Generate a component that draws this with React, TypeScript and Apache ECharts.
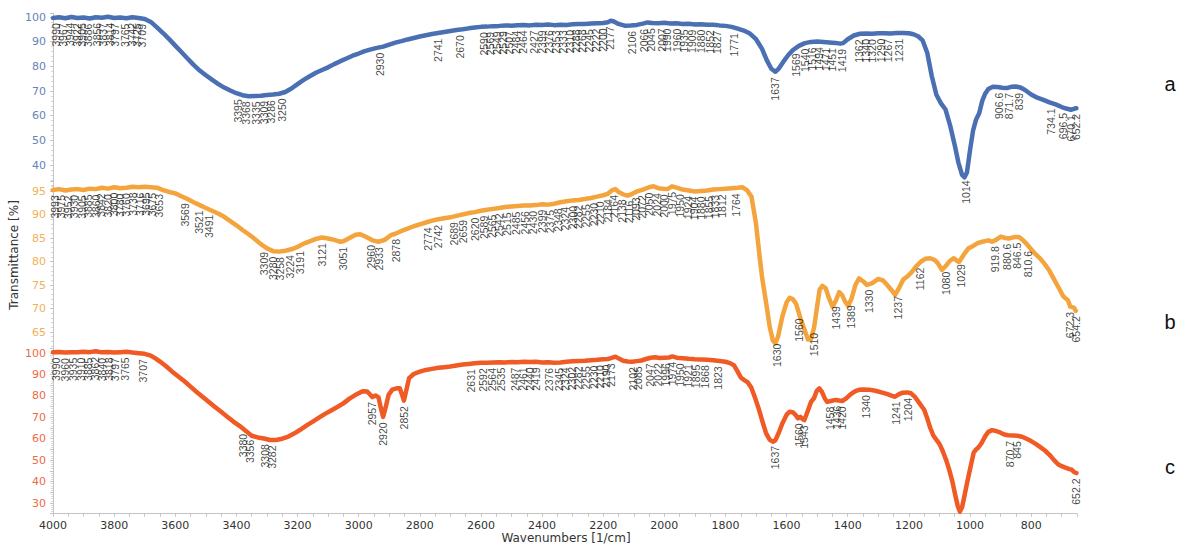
import React, { useEffect, useRef } from "react";
import * as echarts from "echarts";

// ---- data (wavenumber [1/cm], transmittance [%]) ----
const blueSpectrum: number[][] = [
  [4000, 99.6], [3980, 99.9], [3960, 99.5], [3940, 100], [3920, 99.6], [3900, 99.8], [3880, 99.4], [3860, 99.9],
  [3840, 99.7], [3820, 100.1], [3800, 99.6], [3780, 99.8], [3760, 99.5], [3740, 99.9], [3720, 99.6], [3700, 99.2],
  [3680, 98], [3660, 95.8], [3640, 93.5], [3620, 91], [3600, 88.4], [3580, 85.8], [3560, 83.2], [3540, 80.6],
  [3520, 78.3], [3500, 76.4], [3480, 74.6], [3460, 72.9], [3440, 71.4], [3420, 70.2], [3400, 69.1], [3380, 68.3],
  [3360, 67.9], [3340, 68], [3320, 68.1], [3300, 68.4], [3280, 68.6], [3260, 68.9], [3240, 69.6], [3220, 71],
  [3200, 72.8], [3180, 74.5], [3160, 76], [3140, 77.4], [3120, 78.5], [3100, 79.6], [3080, 80.9], [3060, 82.1],
  [3040, 83.2], [3020, 84.3], [3000, 85.2], [2980, 86.2], [2960, 86.9], [2940, 87.5], [2920, 88], [2900, 88.8],
  [2880, 89.6], [2860, 90.2], [2840, 90.9], [2820, 91.5], [2800, 92.1], [2780, 92.6], [2760, 93.1], [2740, 93.5],
  [2720, 93.9], [2700, 94.3], [2680, 94.7], [2660, 95], [2640, 95.4], [2620, 95.7], [2600, 96], [2580, 96.1],
  [2560, 96.3], [2540, 96.4], [2520, 96.6], [2500, 96.5], [2480, 96.7], [2460, 96.8], [2440, 96.6], [2420, 96.9],
  [2400, 96.8], [2380, 97], [2360, 96.7], [2340, 96.9], [2320, 96.8], [2300, 97.1], [2280, 97.2], [2260, 97.2],
  [2240, 97.4], [2220, 97.5], [2200, 97.6], [2185, 97.9], [2175, 98.5], [2165, 98.2], [2150, 97.2], [2130, 96.5],
  [2110, 96.6], [2090, 96.8], [2070, 97.3], [2055, 97.8], [2040, 97.6], [2020, 97.5], [2000, 97.7], [1980, 97.4],
  [1960, 97.5], [1940, 97.2], [1920, 97.3], [1900, 97], [1880, 97.1], [1860, 96.9], [1840, 96.9], [1820, 96.6],
  [1800, 96.4], [1780, 96], [1760, 95.3], [1740, 94.5], [1720, 93.3], [1700, 91], [1680, 87], [1665, 82.5],
  [1650, 79], [1637, 77.8], [1625, 79.2], [1610, 82], [1595, 84.5], [1580, 86.5], [1560, 88.3], [1540, 89.4],
  [1520, 89.9], [1500, 90.1], [1480, 89.9], [1460, 89.7], [1440, 89.5], [1425, 89.2], [1415, 89.4], [1400, 91],
  [1380, 92.5], [1360, 93.2], [1340, 93.3], [1320, 93.2], [1300, 93.4], [1280, 93.4], [1260, 93.3], [1240, 93.5],
  [1220, 93.5], [1200, 93.4], [1185, 93], [1170, 92.2], [1155, 90.5], [1140, 85.5], [1125, 76], [1110, 68.5],
  [1095, 65], [1080, 62.5], [1065, 56], [1050, 48], [1038, 41], [1026, 36], [1018, 35], [1010, 37], [1000, 46],
  [990, 54], [980, 58.5], [970, 61], [960, 66], [950, 69], [940, 70.8], [925, 71.7], [910, 71.6], [895, 71.3],
  [880, 71.2], [865, 71.7], [850, 71.8], [835, 71.4], [820, 70.4], [800, 68.6], [780, 67.3], [760, 66.4],
  [740, 65.4], [720, 64.6], [700, 63.5], [685, 62.9], [670, 62.4], [660, 62.8], [652, 63],
];

const orangeSpectrum: number[][] = [
  [4000, 95.2], [3980, 95.4], [3960, 95.1], [3940, 95.3], [3920, 95.4], [3900, 95.2], [3880, 95.5], [3860, 95.4],
  [3840, 95.7], [3820, 95.5], [3800, 95.8], [3780, 95.6], [3760, 95.7], [3740, 95.9], [3720, 95.8], [3700, 95.9],
  [3680, 95.8], [3660, 95.7], [3640, 95.2], [3620, 94.8], [3600, 94.5], [3580, 93.9], [3560, 93.3], [3540, 92.6],
  [3520, 92], [3500, 91.4], [3480, 90.8], [3460, 90.2], [3440, 89.5], [3420, 88.6], [3400, 87.7], [3380, 86.7],
  [3360, 85.8], [3340, 84.8], [3320, 83.7], [3300, 82.8], [3280, 82.2], [3260, 82.1], [3240, 82.3], [3220, 82.6],
  [3200, 83.1], [3180, 83.8], [3160, 84.3], [3140, 84.8], [3120, 85.1], [3100, 84.9], [3080, 84.6], [3060, 84.2],
  [3050, 84.3], [3030, 85], [3010, 85.7], [2995, 85.8], [2975, 85.2], [2955, 84.5], [2935, 84.2], [2915, 84.6],
  [2895, 85.6], [2880, 85.9], [2860, 86.5], [2840, 87], [2820, 87.5], [2800, 87.9], [2780, 88.3], [2760, 88.7],
  [2740, 89], [2720, 89.2], [2700, 89.4], [2680, 89.7], [2660, 90], [2640, 90.3], [2620, 90.5], [2600, 90.8],
  [2580, 91], [2560, 91.2], [2540, 91.4], [2520, 91.6], [2500, 91.7], [2480, 91.8], [2460, 91.9], [2440, 91.9],
  [2420, 92], [2400, 92.2], [2380, 92.1], [2360, 92.3], [2340, 92.6], [2320, 92.8], [2300, 93], [2280, 93.1],
  [2260, 93.3], [2240, 93.5], [2220, 93.8], [2200, 94.1], [2185, 94.4], [2170, 95.2], [2160, 95.4], [2150, 94.8],
  [2135, 94.3], [2120, 94], [2105, 94.4], [2090, 94.9], [2070, 95.3], [2050, 95.8], [2035, 96], [2020, 95.6],
  [2005, 95.5], [1990, 95.4], [1975, 96], [1960, 95.7], [1940, 95.3], [1920, 95.1], [1900, 94.9], [1880, 95],
  [1860, 95.1], [1840, 95.3], [1820, 95.4], [1800, 95.5], [1780, 95.6], [1760, 95.7], [1745, 95.8], [1730, 95.2],
  [1715, 93.8], [1700, 88], [1690, 82], [1680, 76.5], [1667, 71.2], [1655, 66], [1645, 63.2], [1637, 62.6],
  [1628, 64], [1614, 68.3], [1600, 71.3], [1590, 72.3], [1580, 72], [1569, 71], [1555, 68], [1540, 65.2],
  [1530, 63.4], [1520, 63.5], [1510, 66], [1500, 70.5], [1492, 74], [1483, 74.8], [1472, 74.3], [1462, 72.3],
  [1450, 70.4], [1440, 71.5], [1428, 73.5], [1418, 72.8], [1408, 71.4], [1399, 70.6], [1388, 72], [1375, 75],
  [1363, 76.4], [1350, 75.8], [1337, 75], [1320, 75.4], [1300, 76.3], [1285, 76], [1271, 75], [1258, 74],
  [1245, 72.9], [1232, 74.4], [1218, 76.2], [1205, 76.8], [1190, 77.8], [1177, 78.9], [1160, 80], [1145, 80.6],
  [1130, 80.7], [1115, 80.3], [1105, 79.6], [1092, 78.2], [1080, 79], [1065, 80.2], [1053, 80.7], [1042, 80.1],
  [1036, 79.9], [1020, 81.5], [1005, 82.8], [993, 83.2], [975, 83.9], [960, 84.2], [940, 84.5], [928, 84.2],
  [915, 84.6], [899, 85.3], [885, 85], [873, 84.9], [855, 85.2], [840, 85.2], [828, 84.6], [817, 83.9],
  [800, 82.6], [785, 81.5], [770, 80.6], [755, 79.4], [742, 78.2], [725, 76.2], [709, 74.3], [695, 72.6],
  [688, 72.2], [680, 71.8], [672, 70.4], [660, 70.2], [654, 69.5],
];

const redSpectrum: number[][] = [
  [4000, 100.3], [3980, 100.5], [3960, 100.2], [3940, 100.4], [3920, 100.3], [3900, 100.6], [3880, 100.4],
  [3860, 100.8], [3840, 100.3], [3820, 100.5], [3800, 100.2], [3780, 100.4], [3760, 100.6], [3740, 100.2],
  [3720, 99.9], [3700, 99.6], [3680, 98.8], [3665, 97.5], [3650, 96], [3630, 93.8], [3610, 91.3], [3590, 89],
  [3570, 86.8], [3550, 84.3], [3530, 81.8], [3510, 79.5], [3490, 77.1], [3470, 74.8], [3450, 72.6], [3430, 70.3],
  [3410, 68], [3390, 66], [3370, 63.7], [3350, 61.4], [3330, 60.6], [3310, 60.1], [3290, 59.4], [3270, 59.4],
  [3250, 60], [3230, 61], [3210, 62.5], [3190, 64.3], [3170, 66.2], [3150, 68], [3130, 69.8], [3110, 71.6],
  [3090, 73.2], [3070, 74.8], [3050, 76.5], [3030, 78.7], [3010, 80.5], [2995, 81.6], [2985, 82.2], [2972, 82],
  [2962, 80.5], [2955, 79.4], [2945, 80.2], [2935, 79.3], [2927, 74], [2920, 70.2], [2912, 74.5], [2902, 80.5],
  [2890, 82.9], [2876, 83.5], [2866, 83.6], [2858, 80.5], [2852, 77.8], [2845, 82], [2835, 88.3], [2820, 90.2],
  [2800, 91.3], [2780, 92.1], [2760, 92.6], [2740, 93.1], [2720, 93.4], [2700, 93.7], [2680, 94.2], [2660, 94.6],
  [2640, 94.9], [2620, 95.2], [2600, 95.4], [2580, 95.5], [2560, 95.6], [2540, 95.7], [2520, 95.6], [2500, 95.8],
  [2480, 95.7], [2460, 95.9], [2440, 95.8], [2420, 95.9], [2400, 95.6], [2380, 95.7], [2360, 95.5], [2340, 95.6],
  [2320, 95.9], [2300, 96.1], [2280, 96.3], [2260, 96.4], [2240, 96.6], [2220, 96.8], [2200, 97.1], [2185, 97.2],
  [2175, 97.6], [2160, 98.3], [2150, 97.5], [2135, 96.4], [2120, 96], [2105, 95.9], [2090, 96.2], [2075, 96.5],
  [2060, 97.2], [2045, 97.8], [2030, 98], [2015, 97.7], [2000, 97.8], [1985, 97.9], [1974, 98.4], [1960, 97.8],
  [1940, 97.6], [1920, 97.3], [1900, 97.1], [1880, 97], [1860, 96.9], [1840, 96.6], [1820, 96.3], [1800, 95.9],
  [1785, 95.3], [1772, 94.2], [1762, 91.8], [1750, 88.6], [1740, 87.5], [1728, 86.4], [1716, 84], [1703, 79],
  [1690, 73.4], [1678, 67.5], [1667, 62.5], [1655, 59.5], [1645, 58.6], [1637, 59.2], [1625, 63], [1614, 67.1],
  [1600, 71.2], [1590, 72.6], [1580, 72.4], [1570, 71], [1563, 69.5], [1555, 70.2], [1548, 69.2], [1542, 68.7],
  [1532, 72.5], [1520, 77.2], [1510, 79], [1502, 82.2], [1493, 83.5], [1485, 82], [1475, 78.8], [1467, 77.2],
  [1455, 77.6], [1440, 78.1], [1428, 77.8], [1418, 77.6], [1405, 78.8], [1390, 80.8], [1375, 82.2], [1363, 82.8],
  [1350, 83], [1330, 82.9], [1310, 82.4], [1290, 81.6], [1270, 80.8], [1255, 80], [1245, 79.6], [1232, 80.8],
  [1220, 81.5], [1205, 81.6], [1193, 81.2], [1180, 79.5], [1165, 76.5], [1150, 73.5], [1140, 69.5], [1130, 65],
  [1120, 61.5], [1110, 59.5], [1100, 57.6], [1090, 54.5], [1078, 50], [1068, 45.5], [1058, 40.2], [1048, 33.5],
  [1040, 28.5], [1033, 26], [1026, 28], [1018, 33.5], [1008, 40.5], [998, 47], [988, 53.5], [980, 55], [972, 56],
  [962, 58], [950, 61.2], [940, 63.2], [928, 64], [915, 63.6], [900, 62.8], [888, 62], [875, 61.6], [860, 61.5],
  [845, 61.4], [830, 60.9], [815, 60], [800, 58.9], [785, 57.6], [770, 56.1], [755, 54.5], [740, 52.5], [725, 50],
  [712, 48.1], [700, 47.2], [688, 46.5], [675, 45.8], [668, 45.6], [660, 44.5], [652, 44],
];

// peak labels (wavenumbers as printed)
const blueLabels = [
  "3990", "3967", "3944", "3922", "3905", "3886", "3856", "3837", "3814", "3797", "3765", "3742", "3725", "3709",
  "3395", "3368", "3335", "3309", "3286", "3250", "2930", "2741", "2670",
  "2590", "2569", "2549", "2529", "2507", "2484", "2464", "2427", "2399", "2376", "2353", "2333", "2310",
  "2288", "2268", "2245", "2222", "2200", "2177",
  "2106", "2066", "2045", "2007", "1990", "1960", "1935", "1909", "1880", "1852", "1827", "1771",
  "1637", "1569", "1540", "1516", "1494", "1471", "1451", "1419", "1362", "1340", "1320", "1290", "1267", "1231",
  "1014", "906.6", "871.7", "839", "734.1", "696.5", "670.1", "652.2",
];
const orangeLabels = [
  "3993", "3975", "3952", "3930", "3905", "3885", "3860", "3842", "3820", "3800", "3780", "3760", "3738", "3716",
  "3695", "3675", "3653", "3569", "3521", "3491", "3309", "3280", "3258", "3224", "3191", "3121", "3051",
  "2960", "2933", "2878", "2774", "2742", "2689", "2659", "2620", "2589", "2565", "2542", "2515", "2485", "2456",
  "2430", "2399", "2375", "2348", "2324", "2300", "2282", "2255", "2230", "2210", "2184", "2164", "2138", "2116",
  "2093", "2072", "2050", "2024", "2000", "1975", "1950", "1924", "1904", "1880", "1855", "1833", "1812", "1764",
  "1630", "1560", "1510", "1439", "1389", "1330", "1237", "1162", "1080", "1029", "919.8", "880.6", "846.5",
  "810.6", "672.3", "654.2",
];
const redLabels = [
  "3990", "3960", "3935", "3910", "3885", "3862", "3840", "3818", "3797", "3765", "3707", "3380", "3356", "3308",
  "3282", "2957", "2920", "2852", "2631", "2592", "2564", "2535", "2487", "2461", "2440", "2419", "2376", "2345",
  "2324", "2302", "2282", "2255", "2230", "2210", "2190", "2173", "2102", "2085", "2047", "2022", "1996", "1974",
  "1950", "1921", "1895", "1868", "1823", "1637", "1560", "1543", "1458", "1436", "1420", "1340", "1241", "1204",
  "870.7", "845", "652.2",
];

const panelNames = ["a", "b", "c"];

const BLUE = "#4a6fb2";
const ORANGE = "#f4a43c";
const RED = "#f05a24";
const BLUE_TXT = "#6583b6";
const ORANGE_TXT = "#f2b05a";
const RED_TXT = "#ec6a48";
const AXIS = "#c4c4c4";

function interp(data: number[][], w: number): number {
  for (let i = 0; i < data.length - 1; i++) {
    const a = data[i];
    const b = data[i + 1];
    if ((w <= a[0] && w >= b[0]) || (w >= a[0] && w <= b[0])) {
      const t = (w - a[0]) / (b[0] - a[0] || 1);
      return a[1] + t * (b[1] - a[1]);
    }
  }
  return data[data.length - 1][1];
}

function gridBox(refPx: number, refVal: number, ppu: number, min: number, max: number) {
  return { top: refPx - (max - refVal) * ppu, height: (max - min) * ppu };
}

export default function App() {
  const ref = useRef<HTMLDivElement>(null);
  useEffect(() => {
    document.body.style.margin = "0";
    if (!ref.current) return;
    const chart = echarts.init(ref.current, null, { renderer: "svg" });

    const X_MIN = 650;
    const X_MAX = 4000;
    const left = 53;
    const right = 1184 - 1077;

    const panels = [
      { data: blueSpectrum, labels: blueLabels, color: BLUE, txt: BLUE_TXT, min: 30, max: 101.5, interval: 10,
        box: gridBox(17, 100, 2.467, 30, 101.5), show: (v: number) => v % 10 === 0 && v >= 40 && v <= 100 },
      { data: orangeSpectrum, labels: orangeLabels, color: ORANGE, txt: ORANGE_TXT, min: 60, max: 97, interval: 5,
        box: gridBox(191, 95, 4.7, 60, 97), show: (v: number) => v % 5 === 0 && v >= 65 && v <= 95 },
      { data: redSpectrum, labels: redLabels, color: RED, txt: RED_TXT, min: 25, max: 102, interval: 5,
        box: gridBox(353, 100, 2.143, 25, 102), show: (v: number) => v % 10 === 0 && v >= 30 && v <= 100 },
    ];

    const grid = panels.map((p) => ({ left, right, top: p.box.top, height: p.box.height }));

    const xAxis = panels.map((p, i) => ({
      type: "value",
      gridIndex: i,
      min: X_MIN,
      max: X_MAX,
      interval: 50,
      inverse: true,
      show: i === 2,
      splitLine: { show: false },
      axisLine: { show: true, lineStyle: { color: AXIS, width: 1 } },
      axisTick: { show: true, length: 3, lineStyle: { color: AXIS } },
      axisLabel: {
        interval: 0,
        margin: 6,
        color: "#333",
        fontSize: 11,
        fontFamily: "DejaVu Sans",
        formatter: (v: number) => (v % 200 === 0 ? String(v) : ""),
      },
    }));

    const yAxis = panels.map((p, i) => ({
      type: "value",
      gridIndex: i,
      min: p.min,
      max: p.max,
      interval: p.interval,
      splitLine: { show: false },
      axisLine: { show: true, lineStyle: { color: AXIS, width: 1 } },
      axisTick: { show: true, length: 3, lineStyle: { color: AXIS } },
      minorTick: { show: true, splitNumber: 5, length: 2, lineStyle: { color: "#d8d8d8" } },
      axisLabel: {
        margin: 7,
        color: p.txt,
        fontSize: 11,
        fontFamily: "DejaVu Sans",
        showMinLabel: true,
        showMaxLabel: true,
        formatter: (v: number) => (p.show(Math.round(v * 1000) / 1000) ? String(v) : ""),
      },
    }));

    const series: any[] = [];
    panels.forEach((p, i) => {
      series.push({
        type: "line",
        xAxisIndex: i,
        yAxisIndex: i,
        data: p.data,
        symbol: "none",
        showSymbol: false,
        lineStyle: { color: p.color, width: 4.5, join: "round", cap: "round" },
        z: 3,
        silent: true,
      });
    });
    panels.forEach((p, i) => {
      series.push({
        type: "scatter",
        xAxisIndex: i,
        yAxisIndex: i,
        symbolSize: 1,
        itemStyle: { color: "rgba(0,0,0,0)" },
        silent: true,
        z: 4,
        data: p.labels.map((t) => {
          const w = parseFloat(t);
          return { value: [w, interp(p.data, w)], name: t };
        }),
        label: {
          show: true,
          position: "bottom",
          distance: 5,
          rotate: 90,
          align: "right",
          verticalAlign: "middle",
          formatter: "{b}",
          color: "#111",
          fontSize: 10.5,
          fontFamily: "Liberation Sans",
        },
      });
    });

    const letterY = [84, 322, 467];
    const graphic: any[] = panelNames.map((n, i) => ({
      type: "text",
      x: 1170,
      y: letterY[i],
      style: {
        text: n,
        fill: "#111",
        font: '20px "Liberation Sans"',
        align: "center",
        verticalAlign: "middle",
      },
    }));
    graphic.push({
      type: "text",
      x: 14,
      y: 255,
      rotation: Math.PI / 2,
      style: {
        text: "Transmittance [%]",
        fill: "#333",
        font: '12px "DejaVu Sans"',
        align: "center",
        verticalAlign: "middle",
      },
    });
    graphic.push({
      type: "text",
      x: 566,
      y: 538,
      style: {
        text: "Wavenumbers [1/cm]",
        fill: "#333",
        font: '12px "DejaVu Sans"',
        align: "center",
        verticalAlign: "middle",
      },
    });

    chart.setOption({
      animation: false,
      backgroundColor: "#ffffff",
      grid,
      xAxis,
      yAxis,
      series,
      graphic,
    });
    return () => chart.dispose();
  }, []);
  return <div ref={ref} style={{ width: 1184, height: 547 }} />;
}
